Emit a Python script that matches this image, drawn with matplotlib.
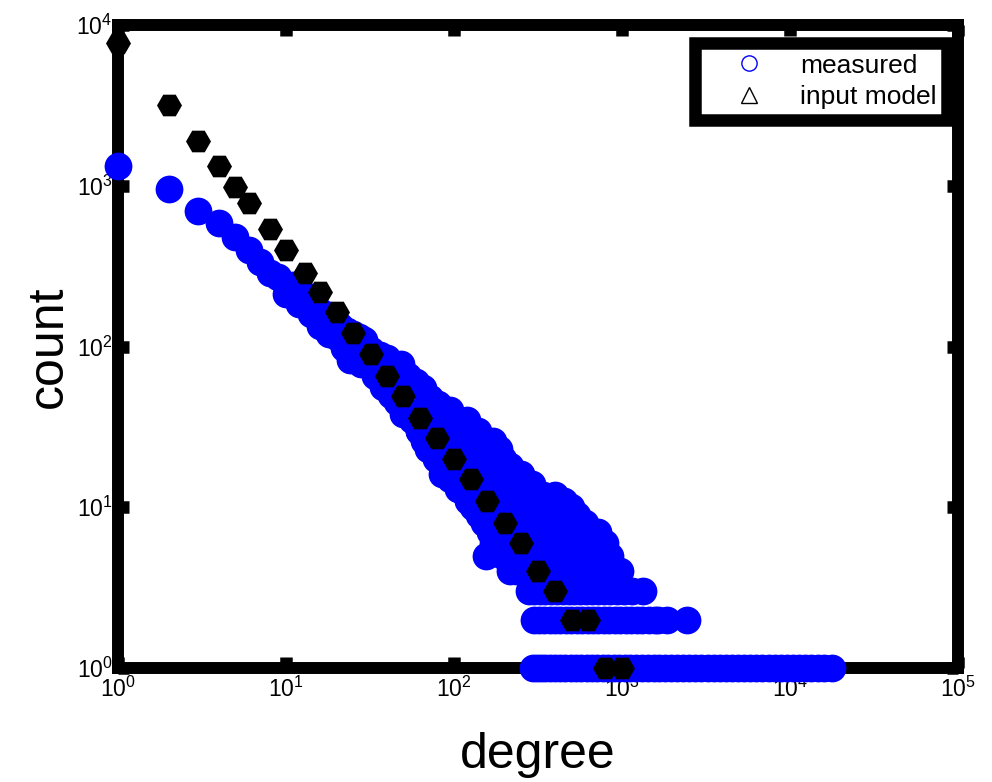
import matplotlib
matplotlib.use('Agg')
import matplotlib.pyplot as plt
from matplotlib.lines import Line2D
from matplotlib.ticker import LogLocator, NullLocator

plt.rcParams['font.family'] = ['Liberation Sans', 'DejaVu Sans']
plt.rcParams['mathtext.fontset'] = 'custom'
plt.rcParams['mathtext.rm'] = 'Liberation Sans'

# input model: log-binned degree sequence
model_deg = [1, 2, 3, 4, 5, 6, 8, 10, 13, 16, 20, 25, 32, 40, 50, 63, 79, 100,
             126, 158, 200, 251, 316, 398, 501, 631, 794, 1000]
model_cnt = [7730, 3180, 1900, 1330, 980, 780, 540, 400, 287, 218, 164, 121,
             90, 66, 49, 36, 27, 20, 15, 11, 8, 6, 4, 3, 2, 2, 1, 1]

# measured: low degrees, one count per degree
head_deg = [1, 2, 3, 4, 5, 6, 7, 8, 9, 10, 11, 12, 13, 14, 15, 16, 17, 18, 19,
            20, 21, 22, 23, 24, 25, 26, 27, 28, 29, 30, 32, 34, 36, 38, 40, 42,
            44, 46, 48, 50, 53, 56, 59, 62, 65, 68, 72, 76, 80, 85, 90, 95, 100,
            106, 112]
head_cnt = [1330, 955, 697, 587, 480, 400, 335, 285, 270, 212, 240, 185, 210,
            160, 175, 135, 160, 120, 150, 115, 135, 98, 125, 82, 120, 95, 115,
            78, 110, 88, 95, 66, 88, 56, 85, 50, 75, 45, 78, 38, 66, 35, 60, 30,
            55, 27, 48, 26, 44, 16, 40, 15, 36, 13, 33]

# measured: higher degrees, grouped by their (small) count
deg_at_1 = [295, 310, 330, 350, 375, 400, 430, 460, 495, 530, 570, 615, 660,
            710, 765, 825, 890, 960, 1040, 1120, 1210, 1310, 1420, 1540, 1670,
            1810, 1960, 2130, 2310, 2510, 2730, 2970, 3230, 3510, 3820, 4150,
            4510, 4900, 5330, 5800, 6300, 6850, 7450, 8100, 8800, 9600, 10400,
            11300, 12300, 13400, 14600, 16000, 17800]
deg_at_2 = [300, 320, 345, 370, 400, 430, 465, 500, 540, 580, 625, 670, 720,
            780, 840, 905, 975, 1050, 1130, 1220, 1320, 1440, 1560, 1640, 1850,
            2440]
deg_at_3 = [280, 300, 325, 350, 380, 410, 445, 480, 520, 560, 610, 660, 720,
            780, 850, 930, 1020, 1150, 1330]
deg_at_4 = [215, 235, 255, 280, 305, 330, 360, 390, 425, 460, 500, 545, 590,
            640, 700, 760, 830, 900, 975]
deg_at_5 = [155, 195, 215, 235, 255, 280, 305, 330, 360, 390, 425, 460, 500,
            545, 590, 640, 700, 770, 850]
deg_at_6 = [170, 195, 225, 260, 300, 345, 400, 460, 530, 610, 700, 790]
deg_at_7 = [163, 190, 220, 255, 295, 340, 390, 450, 520, 620, 718]
deg_at_8 = [150, 175, 205, 240, 280, 325, 375, 430, 500, 600]
deg_at_9 = [140, 165, 195, 230, 270, 315, 365, 420, 480, 540]
deg_at_10 = [130, 155, 185, 220, 260, 305, 355, 420, 500]
deg_at_11 = [121, 145, 175, 210, 250, 295, 345, 400, 450]
deg_at_12 = [118, 140, 170, 205, 245, 290, 340, 400]
deg_at_14 = [105, 125, 150, 180, 215, 255, 292]
deg_at_16 = [95, 115, 140, 170, 205, 250]
deg_at_18 = [85, 100, 125, 150, 180, 215]
deg_at_20 = [78, 95, 115, 140, 170, 195]
deg_at_23 = [70, 85, 105, 130, 155, 185]
deg_at_26 = [66, 80, 100, 120, 150, 170]
deg_at_30 = [62, 75, 92, 115, 139]
deg_at_35 = [58, 70, 85, 105, 120]
deg_at_40 = [52, 65, 80, 95]

row_counts = [1, 2, 3, 4, 5, 6, 7, 8, 9, 10, 11, 12, 14, 16, 18, 20, 23, 26,
              30, 35, 40]
row_degs = [deg_at_1, deg_at_2, deg_at_3, deg_at_4, deg_at_5, deg_at_6,
            deg_at_7, deg_at_8, deg_at_9, deg_at_10, deg_at_11, deg_at_12,
            deg_at_14, deg_at_16, deg_at_18, deg_at_20, deg_at_23, deg_at_26,
            deg_at_30, deg_at_35, deg_at_40]

meas_x = list(head_deg)
meas_y = list(head_cnt)
for c, degs in zip(row_counts, row_degs):
    meas_x.extend(degs)
    meas_y.extend([c] * len(degs))

fig = plt.figure(figsize=(9.92, 7.82), dpi=100)
ax = fig.add_axes([0.119, 0.1458, 0.8468, 0.8222])

ax.plot(meas_x, meas_y, 'o', color='blue', ms=20, mew=0,
        clip_on=False, zorder=3)
ax.plot(model_deg, model_cnt, 'H', color='black', ms=18, mew=0,
        clip_on=False, zorder=4)

ax.set_xscale('log')
ax.set_yscale('log')
ax.set_xlim(1, 1e5)
ax.set_ylim(1, 1e4)
ax.xaxis.set_major_locator(LogLocator(base=10, numticks=10))
ax.yaxis.set_major_locator(LogLocator(base=10, numticks=10))
ax.xaxis.set_minor_locator(NullLocator())
ax.yaxis.set_minor_locator(NullLocator())

for s in ax.spines.values():
    s.set_linewidth(8.6)
ax.tick_params(which='major', direction='in', length=8, width=9,
               top=True, right=True, labelsize=16.5)
ax.tick_params(axis='x', pad=6)
ax.tick_params(axis='y', pad=4)

ax.set_xlabel('degree', fontsize=36, labelpad=22)
ax.set_ylabel('count', fontsize=36, labelpad=3)

handles = [Line2D([], [], ls='none', marker='o', mfc='none', mec='blue',
                  ms=11, mew=1),
           Line2D([], [], ls='none', marker='^', mfc='none', mec='black',
                  ms=11, mew=1)]
leg = ax.legend(handles, ['measured', 'input model'], loc='upper right',
                bbox_to_anchor=(0.987, 0.972), borderaxespad=0, fontsize=19,
                frameon=True, fancybox=False, edgecolor='black', framealpha=1,
                borderpad=0.4, labelspacing=0.3, handlelength=3.3,
                handletextpad=0.3)
leg.get_frame().set_linewidth(9)
leg.set_zorder(5)

fig.savefig('out.png', dpi=100)
